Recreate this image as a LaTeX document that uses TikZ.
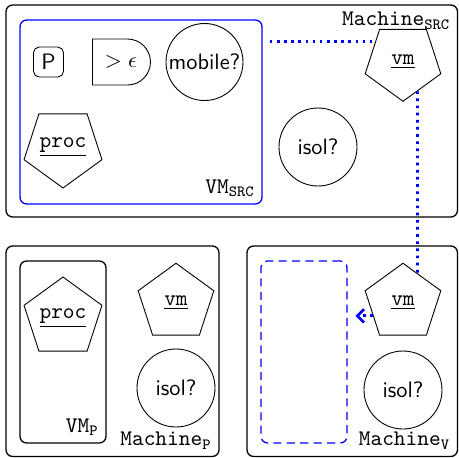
\documentclass[tikz,border=0pt]{standalone}
\usetikzlibrary{shapes.geometric,shapes.misc,arrows.meta}
% one unit of length in the picture
\def\PX{0.448}
\begin{document}
\begin{tikzpicture}[x=\PX pt,y=-\PX pt,
  every node/.style={font=\sffamily},
  container/.style={draw,semithick,rounded corners=3pt,inner sep=0pt},
  guest/.style={container,blue},
  ghost/.style={guest,dash pattern=on 3.6pt off 2.4pt},
  test/.style={draw,circle,inner sep=0pt,minimum size=78*\PX pt},
  agent/.style={draw,regular polygon,regular polygon sides=5,inner sep=0pt,
    minimum size=79.5*\PX pt},
  agentdown/.style={agent,shape border rotate=180},
  tag/.style={font=\ttfamily,inner sep=3.33pt},
  link/.style={blue,very thick,dotted},
]
\useasboundingbox (0,0) rectangle (458,458);

% hosts
\node[container,minimum width=451.5*\PX pt,minimum height=212*\PX pt] (msrc) at (231.75,111) {};
\node[container,minimum width=213*\PX pt,minimum height=210.5*\PX pt] (mp) at (112.5,351.25) {};
\node[container,minimum width=210.5*\PX pt,minimum height=210.5*\PX pt] (mv) at (352.25,351.25) {};

% virtual machines
\node[guest,minimum width=242*\PX pt,minimum height=184*\PX pt] (vmsrcbox) at (141,112) {};
\node[container,minimum width=86*\PX pt,minimum height=182*\PX pt] (vmpbox) at (63,352) {};
\node[ghost,minimum width=86*\PX pt,minimum height=182*\PX pt] (vmvbox) at (304,352) {};

% source machine contents
\node[draw,rounded corners=2.5pt,inner sep=0pt,minimum size=13.4pt] (pnode) at (48.5,62) {P};
\node[draw,rounded rectangle,rounded rectangle west arc=none,inner sep=0pt,
  minimum height=46*\PX pt,minimum width=58*\PX pt] (eps) at (121,62) {$>\epsilon$};
\node[test,minimum size=77*\PX pt] (mobile) at (204.5,62) {mobile?};
\node[agentdown] (procsrc) at (63,147) {\underline{\texttt{proc}}};
\node[agentdown] (vmsrc) at (403,61.5) {\underline{\texttt{vm}}};
\node[test] (isolsrc) at (318,147) {isol?};

% machine P contents
\node[agent] (procp) at (63,318) {\underline{\texttt{proc}}};
\node[agent] (vmp) at (176,303) {\underline{\texttt{vm}}};
\node[test] (isolp) at (176,388) {isol?};

% machine V contents
\node[agent] (vmv) at (403,303) {\underline{\texttt{vm}}};
\node[test] (isolv) at (403,390) {isol?};

% labels
\node[tag,anchor=north east] (lmsrc) at (msrc.north east) {Machine$_{\mathtt{SRC}}$};
\node[tag,anchor=south east] (lvmsrc) at (vmsrcbox.south east) {VM$_{\mathtt{SRC}}$};
\node[tag,anchor=south east] (lvmp) at (vmpbox.south east) {VM$_{\mathtt{P}}$};
\node[tag,anchor=south east] (lmp) at (mp.south east) {Machine$_{\mathtt{P}}$};
\node[tag,anchor=south east] (lmv) at (mv.south east) {Machine$_{\mathtt{V}}$};

% migration links
\draw[link,shorten <=3.2pt] (vmsrc.144 -| vmsrcbox.east) -- (vmsrc.144);
\draw[link] (vmsrc.-64) -- (vmv.64);
\draw[link,-{Straight Barb[length=3pt,width=6pt]},shorten >=3.5pt] (vmv.203) -- (vmv.203 -| vmvbox.east);
\end{tikzpicture}
\end{document}
